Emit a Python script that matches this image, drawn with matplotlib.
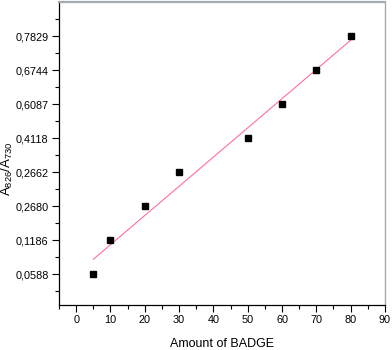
import numpy as np
import matplotlib
matplotlib.use("Agg")
import matplotlib.pyplot as plt
from matplotlib.ticker import FixedLocator, MultipleLocator

# Amount of BADGE and the ratio labels, points sit on evenly spaced tick rows
badge = [5, 10, 20, 30, 50, 60, 70, 80]
ratio_labels = ["0,0588", "0,1186", "0,2680", "0,2662", "0,4118", "0,6087", "0,6744", "0,7829"]
x_ticks = [0, 10, 20, 30, 40, 50, 60, 70, 80, 90]

plt.rcParams["font.family"] = ["Liberation Sans", "DejaVu Sans"]
plt.rcParams["mathtext.default"] = "regular"

rows = np.arange(1, len(ratio_labels) + 1)

fig = plt.figure(figsize=(3.92, 3.5), dpi=100)
ax = fig.add_axes([0.1505, 0.1286, 0.8315, 0.8654])

# linear fit across the plotted rows
slope, intercept = np.polyfit(badge, rows, 1)
fit_x = np.array([badge[0], badge[-1]])
ax.plot(fit_x, slope * fit_x + intercept, color="#ff6f9f", linewidth=0.8, zorder=2)
ax.plot(badge, rows, linestyle="none", marker="s", markersize=4.3,
        color="black", zorder=3)

ax.set_xlim(-5, 90)
ax.set_ylim(0.1, 9.0)
ax.set_xticks(x_ticks)
ax.xaxis.set_minor_locator(MultipleLocator(5))
ax.set_yticks(rows)
ax.set_yticklabels(ratio_labels)
ax.yaxis.set_minor_locator(FixedLocator(np.arange(0.5, 9.0, 1.0)))

ax.tick_params(which="major", direction="out", length=5, width=0.8, labelsize=7.8, pad=2.5)
ax.tick_params(which="minor", direction="out", length=3, width=0.8)
ax.tick_params(top=False, right=False)

for side in ["left", "bottom"]:
    ax.spines[side].set_color("black")
    ax.spines[side].set_linewidth(0.9)
ax.spines["top"].set_color("#a3abb3")
ax.spines["top"].set_linewidth(1.6)
ax.spines["right"].set_color("#a3abb3")
ax.spines["right"].set_linewidth(1.0)

ax.set_xlabel("Amount of BADGE", fontsize=9, labelpad=9)
ax.set_ylabel("A$_{826}$/A$_{730}$", fontsize=9.5)
ax.yaxis.set_label_coords(-0.135, 0.45)

fig.savefig("out.png", dpi=100)
